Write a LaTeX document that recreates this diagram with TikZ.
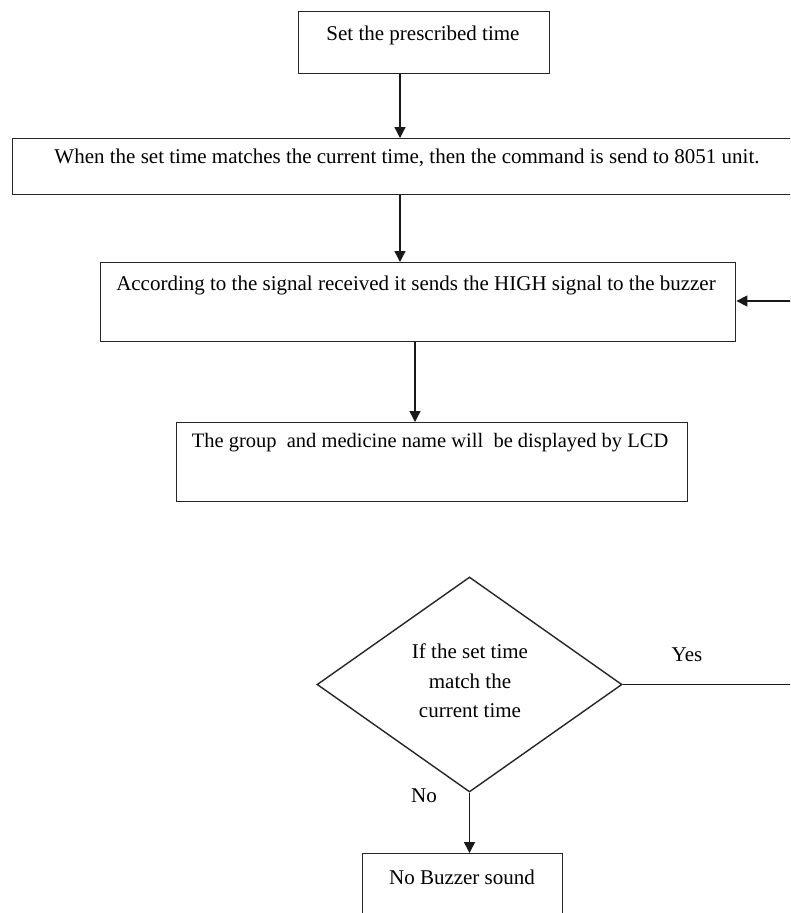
\documentclass[tikz,border=0pt]{standalone}
\usepackage{fontspec}
\setmainfont{Liberation Serif}
\usetikzlibrary{arrows.meta,shapes.geometric}
\tikzset{
  x=1pt,y=-1pt,
  boxline/.style={draw=black!85,line width=1.4pt},
  stepbox/.style={boxline,rectangle,inner sep=0pt,anchor=north west},
  lbl/.style={inner sep=0pt,font=\fontsize{21}{25}\selectfont,text=black},
  arr/.style={line width=1.4pt,draw=black!90,-{Triangle[length=11pt,width=11pt]}},
  plain/.style={line width=1.4pt,draw=black!90},
}
\begin{document}
\begin{tikzpicture}
\clip (0,0) rectangle (790,913);
\fill[white] (0,0) rectangle (790,913);
% boxes
\node[stepbox,minimum width=251pt,minimum height=62pt] (b1) at (298,11) {};
\node[stepbox,minimum width=782pt,minimum height=56pt] (b2) at (12,138) {};
\node[stepbox,minimum width=635pt,minimum height=79pt] (b3) at (100,262) {};
\node[stepbox,minimum width=511pt,minimum height=79pt] (b4) at (176,422) {};
\node[boxline,diamond,minimum width=305pt,minimum height=215pt,inner sep=0pt] (d) at (469.5,684.5) {};
\node[stepbox,minimum width=200pt,minimum height=90pt] (b5) at (362,853) {};
% texts
\node[lbl] (t1) at (423,35) {Set the prescribed time};
\node[lbl] (t2) at (407,158) {When the set time matches the current time, then the command is send to 8051 unit.};
\node[lbl] (t3) at (416,285) {According to the signal received it sends the HIGH signal to the buzzer};
\node[lbl,font=\fontsize{20.5}{25}\selectfont] (t4) at (430,443) {The group\ \ and medicine name will\ \ be displayed by LCD};
\node[lbl,align=center,font=\fontsize{21}{29.5}\selectfont] (td) at (470,681) {If the set time\\match the\\current time};
\node[lbl] (yes) at (687,655) {Yes};
\node[lbl] (no) at (424,796) {No};
\node[lbl] (t5) at (462,877) {No Buzzer sound};
% connectors
\coordinate (edgeA) at (792,301);
\coordinate (edgeB) at (792,684.5);
\draw[arr] (b1.south west) ++(102,0) coordinate (a1) -- (a1 |- b2.north);
\draw[arr] (b2.south west) ++(388,0) coordinate (a2) -- (a2 |- b3.north);
\draw[arr] (b3.south west) ++(315,0) coordinate (a3) -- (a3 |- b4.north);
\draw[arr] (edgeA) -- (edgeA -| b3.east);
\draw[plain] (d.east) -- (edgeB);
\draw[arr] (d.south) -- (d.south |- b5.north);
\end{tikzpicture}
\end{document}
